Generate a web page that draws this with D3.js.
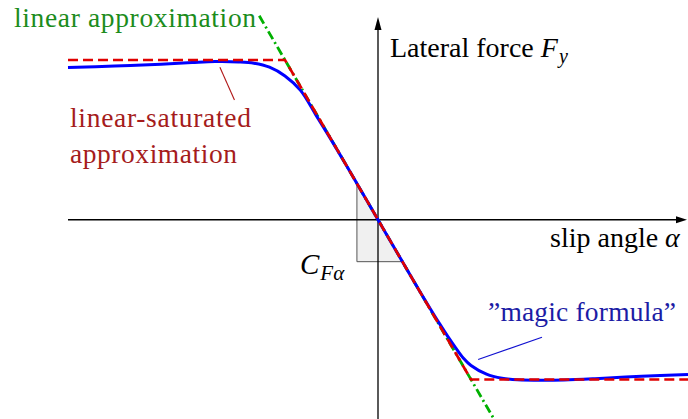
<!DOCTYPE html>
<html>
<head>
<meta charset="utf-8">
<script src="https://cdn.jsdelivr.net/npm/d3@7"></script>
<style>
  html, body { margin: 0; padding: 0; background: #fff; }
  svg { display: block; }
</style>
</head>
<body>
<svg id="chart" width="688" height="419"></svg>
<script>
// Slip angle (deg) and normalised lateral force of the "magic formula" tyre curve
const magicAlpha = [-10, -8.5, -7, -6, -5.25, -4.5, -4, -3.5, -3, -2.5, -2, -1.5, -1, 0,
                    1, 1.5, 2, 2.25, 2.5, 2.75, 3, 3.5, 4, 4.5, 5.3, 6, 7, 8.5, 10];
const magicForce = [0.953, 0.962, 0.974, 0.984, 0.99, 0.988, 0.98, 0.955, 0.9, 0.81, 0.655, 0.497, 0.333, 0,
                    -0.333, -0.497, -0.655, -0.73, -0.80, -0.865, -0.912, -0.966, -0.992, -1.002, -1.005, -1.003, -0.995, -0.98, -0.968];

// Linear-saturated approximation: corner points
const satAlpha = [-10, -3, 3, 10];
const satForce = [1, 1, -1, -1];

// Linear approximation: F = -C_Fα · α, with C_Fα = 1/3 per degree
const stiffness = 1 / 3;
const linAlpha = [-3.83, 3.95];

// Stiffness triangle: left edge slip angle and bottom force level
const triAlpha = -0.68;
const triForce = -0.2625;

const FONT = "'Liberation Serif', 'DejaVu Serif', 'Times New Roman', serif";

const svg = d3.select("#chart");
const x = d3.scaleLinear().domain([-10, 10]).range([68, 688]);
const y = d3.scaleLinear().domain([1, -1]).range([60, 379.5]);

const line = d3.line().x(d => x(d[0])).y(d => y(d[1]));
const smooth = d3.line().x(d => x(d[0])).y(d => y(d[1])).curve(d3.curveCatmullRom.alpha(0.5));

// Stiffness triangle
const triPts = [
  [triAlpha, -stiffness * triAlpha],
  [triAlpha, triForce],
  [-triForce / stiffness, triForce]
];
svg.append("path")
  .attr("d", line(triPts) + "Z")
  .attr("fill", "#f0f0f0")
  .attr("stroke", "#555")
  .attr("stroke-width", 1);

// Axes with arrow heads
const axisColor = "#000";
svg.append("line")
  .attr("x1", x(-10)).attr("x2", 680).attr("y1", y(0)).attr("y2", y(0))
  .attr("stroke", axisColor).attr("stroke-width", 1.3);
svg.append("path")
  .attr("d", `M687,${y(0)} L676,${y(0) - 3.5} L676,${y(0) + 3.5} Z`)
  .attr("fill", axisColor);
svg.append("line")
  .attr("x1", x(0)).attr("x2", x(0)).attr("y1", 419).attr("y2", 25)
  .attr("stroke", axisColor).attr("stroke-width", 1.3);
svg.append("path")
  .attr("d", `M${x(0)},17 L${x(0) - 3.5},30 L${x(0) + 3.5},30 Z`)
  .attr("fill", axisColor);

// Linear approximation
svg.append("path")
  .attr("d", line(linAlpha.map(a => [a, -stiffness * a])))
  .attr("fill", "none")
  .attr("stroke", "#00b000")
  .attr("stroke-width", 2.8)
  .attr("stroke-dasharray", "9,3.5,2,3.5");

// Magic formula curve
svg.append("path")
  .attr("d", smooth(magicAlpha.map((a, i) => [a, magicForce[i]])))
  .attr("fill", "none")
  .attr("stroke", "#0000ff")
  .attr("stroke-width", 3);

// Linear-saturated approximation
svg.append("path")
  .attr("d", line(satAlpha.map((a, i) => [a, satForce[i]])))
  .attr("fill", "none")
  .attr("stroke", "#e00000")
  .attr("stroke-width", 2.7)
  .attr("stroke-dasharray", "10,5");

// Leader lines
svg.append("path")
  .attr("d", line([[-5.1, 0.955], [-4.63, 0.75]]))
  .attr("stroke", "#b01818").attr("stroke-width", 1.1).attr("fill", "none");
svg.append("path")
  .attr("d", line([[3.23, -0.875], [5.29, -0.735]]))
  .attr("stroke", "#1010d0").attr("stroke-width", 1.1).attr("fill", "none");

// Labels: widen with letter spacing so each label spans its target width
const fs = 27.5;
const sub = 20;
function label(txt, px, py, color, width) {
  const t = svg.append("text")
    .attr("x", px).attr("y", py)
    .attr("fill", color)
    .attr("font-family", FONT)
    .attr("font-size", fs)
    .text(txt);
  if (width) {
    const w = t.node().getComputedTextLength();
    const n = txt.length;
    if (n > 1) t.attr("letter-spacing", ((width - w) / (n - 1)).toFixed(2));
  }
  return t;
}
label("linear approximation", 14, 27, "#1c8c1c", 242);
label("linear-saturated", 70, 127, "#a51c1c", 181);
label("approximation", 70, 163, "#a51c1c", 167);
label("\u201Dmagic formula\u201D", 488, 321, "#1c1ca5", 188);

const lat = svg.append("text").attr("x", 390).attr("y", 57)
  .attr("font-family", FONT).attr("font-size", fs + 0.5).attr("fill", "#000");
lat.append("tspan").text("Lateral force ");
lat.append("tspan").attr("font-style", "italic").text("F");
lat.append("tspan").attr("font-style", "italic").attr("font-size", sub).attr("dx", 1).attr("dy", 6).text("y");

const slip = svg.append("text").attr("x", 550).attr("y", 247)
  .attr("font-family", FONT).attr("font-size", fs + 0.5).attr("fill", "#000");
slip.append("tspan").text("slip angle ");
slip.append("tspan").attr("font-style", "italic").text("α");

const cf = svg.append("text").attr("x", 300).attr("y", 274)
  .attr("font-family", FONT).attr("font-size", fs + 1.5).attr("fill", "#000");
cf.append("tspan").attr("font-style", "italic").text("C");
cf.append("tspan").attr("font-style", "italic").attr("font-size", sub + 1).attr("dx", 1).attr("dy", 6).text("Fα");
</script>
</body>
</html>
